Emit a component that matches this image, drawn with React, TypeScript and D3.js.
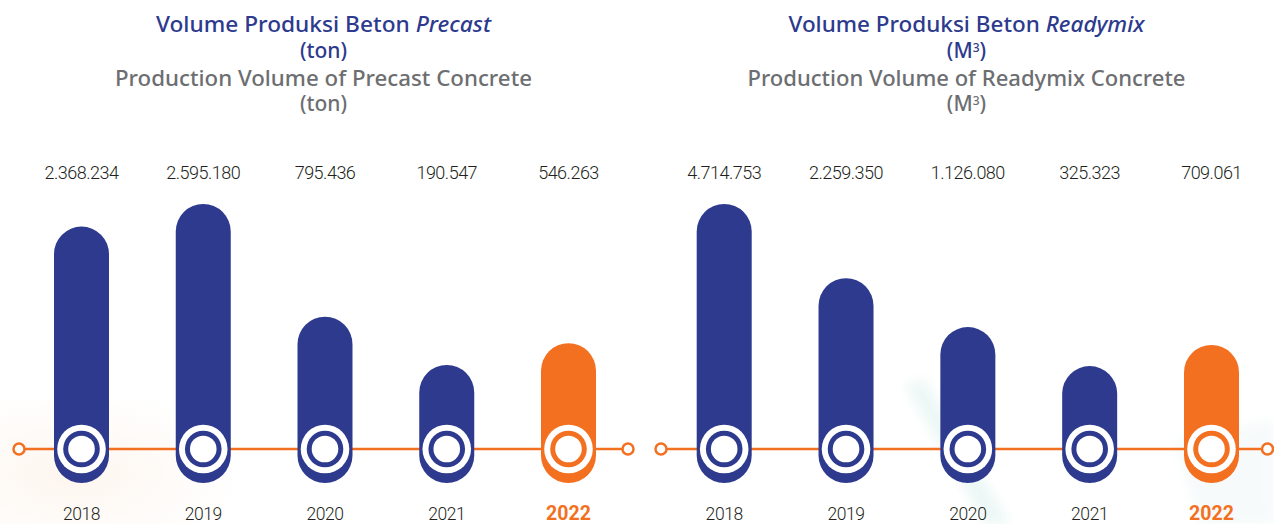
import React from "react";
import * as d3 from "d3";

const years = ["2018", "2019", "2020", "2021", "2022"];
const precastValues = [2368234, 2595180, 795436, 190547, 546263];
const readymixValues = [4714753, 2259350, 1126080, 325323, 709061];
// visual bar levels (percent of tallest bar) as drawn in the source graphic
const precastLevels = [91.9, 100, 59.6, 42.3, 50.1];
const readymixLevels = [100, 73.4, 55.9, 41.9, 49.5];
const highlightYear = "2022";

const W = 1274;
const H = 524;
const BLUE = "#2d3a8e";
const ORANGE = "#f37021";
const GRAY = "#6d6e71";
const TEXT = "#231f20";

const fmt = (v: number) => d3.format(",")(v).replace(/,/g, ".");

type PanelProps = {
  values: number[];
  levels: number[];
  range: [number, number];
  lineRange: [number, number];
  title1: React.ReactNode;
  title2: React.ReactNode;
  title3: React.ReactNode;
  title4: React.ReactNode;
  cx: number;
  t1Len: number;
  t3Len: number;
};

const BOTTOM = 483;
const AXIS_Y = 449;
const BAR_W = 55;
const TF = "'Noto Sans', sans-serif";

function Panel(p: PanelProps) {
  const x = d3.scalePoint<string>().domain(years).range(p.range);
  const y = d3.scaleLinear().domain([0, 100]).range([BOTTOM, BOTTOM - 279]);
  return (
    <g>
      <text x={p.cx} y={32} textAnchor="middle" fill={BLUE} fontSize={21} fontWeight={500}
        fontFamily={TF} textLength={p.t1Len} lengthAdjust="spacingAndGlyphs">{p.title1}</text>
      <text x={p.cx} y={58} textAnchor="middle" fill={BLUE} fontSize={21} fontWeight={500}
        fontFamily={TF}>{p.title2}</text>
      <text x={p.cx} y={86} textAnchor="middle" fill={GRAY} fontSize={21} fontWeight={500}
        fontFamily={TF} textLength={p.t3Len} lengthAdjust="spacingAndGlyphs">{p.title3}</text>
      <text x={p.cx} y={111} textAnchor="middle" fill={GRAY} fontSize={21} fontWeight={500}
        fontFamily={TF}>{p.title4}</text>

      <line x1={p.lineRange[0]} x2={p.lineRange[1]} y1={AXIS_Y} y2={AXIS_Y} stroke={ORANGE} strokeWidth={2.5} />
      {p.lineRange.map((lx, i) => (
        <circle key={i} cx={lx} cy={AXIS_Y} r={5.5} fill="#fff" stroke={ORANGE} strokeWidth={2.5} />
      ))}

      {years.map((yr, i) => {
        const cxb = x(yr)!;
        const top = y(p.levels[i]);
        const col = yr === highlightYear ? ORANGE : BLUE;
        return (
          <g key={yr}>
            <rect x={cxb - BAR_W / 2} y={top} width={BAR_W} height={BOTTOM - top} rx={BAR_W / 2} ry={BAR_W / 2} fill={col} />
            <circle cx={cxb} cy={AXIS_Y} r={24.3} fill="#fff" />
            <circle cx={cxb} cy={AXIS_Y} r={18.3} fill={col} />
            <circle cx={cxb} cy={AXIS_Y} r={13.3} fill="#fff" />
            <text x={cxb} y={178.5} textAnchor="middle" fill={TEXT} fontSize={18} fontWeight={300}
              letterSpacing={-0.5} fontFamily="Roboto, sans-serif">{fmt(p.values[i])}</text>
            {yr === highlightYear ? (
              <text x={cxb} y={520} textAnchor="middle" fill={ORANGE} fontSize={19.5} fontWeight={700}
                fontFamily="Roboto, sans-serif">{yr}</text>
            ) : (
              <text x={cxb} y={519.5} textAnchor="middle" fill={TEXT} fontSize={17.5} fontWeight={300}
                letterSpacing={-0.4} fontFamily="Roboto, sans-serif">{yr}</text>
            )}
          </g>
        );
      })}
    </g>
  );
}

const m3 = (
  <>
    (<tspan>M</tspan>
    <tspan fontSize={12} dy={-6}>3</tspan>
    <tspan dy={6}>)</tspan>
  </>
);

export default function App() {
  return (
    <svg width={W} height={H} viewBox={`0 0 ${W} ${H}`}
      style={{ position: "absolute", left: 0, top: 0, background: "#fff" }}>
      <defs>
        <radialGradient id="peach" cx="0.3" cy="0.6" r="0.7">
          <stop offset="0" stopColor="#fdf2e8" stopOpacity={0.7} />
          <stop offset="1" stopColor="#fdf2e8" stopOpacity={0} />
        </radialGradient>
        <filter id="blur" x="-50%" y="-50%" width="200%" height="200%">
          <feGaussianBlur stdDeviation="6" />
        </filter>
      </defs>
      <rect x={0} y={400} width={240} height={124} fill="url(#peach)" />
      <path d="M905,385 L925,380 L1010,524 L985,524 Z" fill="#d9f1ec" opacity={0.5} filter="url(#blur)" />
      <path d="M1175,440 L1274,420 L1274,524 L1200,524 Z" fill="#eef6f6" opacity={0.5} filter="url(#blur)" />
      <Panel
        values={precastValues}
        levels={precastLevels}
        range={[81.5, 568.5]}
        lineRange={[19, 628]}
        cx={323.5}
        t1Len={335}
        t3Len={417}
        title1={<>Volume Produksi Beton <tspan fontStyle="italic">Precast</tspan></>}
        title2={"(ton)"}
        title3={"Production Volume of Precast Concrete"}
        title4={"(ton)"}
      />
      <Panel
        values={readymixValues}
        levels={readymixLevels}
        range={[724.2, 1211.5]}
        lineRange={[661, 1267.5]}
        cx={966.5}
        t1Len={356}
        t3Len={438}
        title1={<>Volume Produksi Beton <tspan fontStyle="italic">Readymix</tspan></>}
        title2={m3}
        title3={"Production Volume of Readymix Concrete"}
        title4={m3}
      />
    </svg>
  );
}
